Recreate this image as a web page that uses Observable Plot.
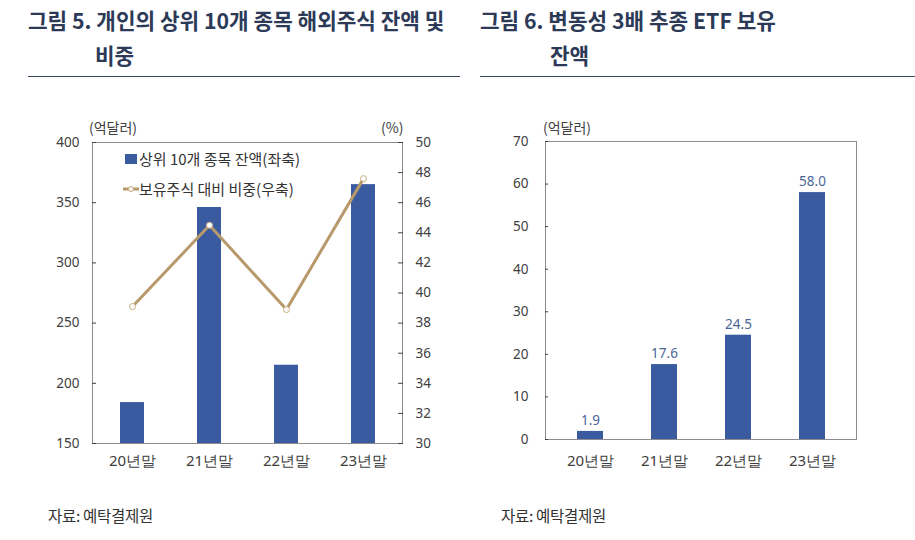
<!DOCTYPE html>
<html>
<head>
<meta charset="utf-8">
<script src="https://cdn.jsdelivr.net/npm/d3@7"></script>
<script src="https://cdn.jsdelivr.net/npm/@observablehq/plot@0.6"></script>
<style>
  html, body { margin: 0; padding: 0; background: #fff; }
  #page { position: relative; width: 915px; height: 540px; overflow: hidden; font-family: "Noto Sans CJK KR", "Noto Sans", sans-serif; }
  .title { position: absolute; font-weight: 700; font-size: 21.3px; color: #2c3a57; line-height: 35px; white-space: nowrap; }
  .rule { position: absolute; height: 0; border-top: 1.5px solid #3d4a62; }
  .unit { position: absolute; font-size: 14px; color: #404040; white-space: nowrap; }
  .src { position: absolute; font-size: 15.5px; color: #333; white-space: nowrap; letter-spacing: -0.3px; }
  .plot { position: absolute; top: 100px; }
  .legend { position: absolute; font-size: 15px; color: #333; white-space: nowrap; display: flex; align-items: center; }
</style>
</head>
<body>
<div id="page">
  <div class="title" style="left:28px; top:2px;">그림 5. 개인의 상위 10개 종목 해외주식 잔액 및</div>
  <div class="title" style="left:95px; top:37px;">비중</div>
  <div class="rule" style="left:28px; top:76px; width:432px;"></div>
  <div class="title" style="left:480px; top:2px;">그림 6. 변동성 3배 추종 ETF 보유</div>
  <div class="title" style="left:550px; top:37px;">잔액</div>
  <div class="rule" style="left:480px; top:76px; width:435px;"></div>

  <div id="left" class="plot" style="left:0px;"></div>
  <div id="right" class="plot" style="left:470px;"></div>

  <div class="unit" style="left:89px; top:117px;">(억달러)</div>
  <div class="unit" style="left:381px; top:117px;">(%)</div>
  <div class="unit" style="left:543px; top:117px;">(억달러)</div>

  <div class="legend" style="left:125px; top:148px;">
    <span style="display:inline-block;width:12px;height:10px;background:#3a5ba0;margin-right:2px;"></span>상위 10개 종목 잔액(좌축)
  </div>
  <div class="legend" style="left:123px; top:178px;">
    <svg width="16" height="10" style="margin-right:0px;"><line x1="0" y1="5" x2="16" y2="5" stroke="#b8996b" stroke-width="3"/><circle cx="8" cy="5" r="2.5" fill="#fff" stroke="#c4a77c" stroke-width="1"/></svg>보유주식 대비 비중(우축)
  </div>

  <div class="src" style="left:48px; top:504px;">자료: 예탁결제원</div>
  <div class="src" style="left:501px; top:504px;">자료: 예탁결제원</div>
</div>
<script>
// ---- Data ----
const categories = ["20년말", "21년말", "22년말", "23년말"];
const topTenBalance = [184, 346, 215, 365];          // 억달러 (left axis)
const shareOfHoldings = [39.1, 44.5, 38.9, 47.6];     // % (right axis)
const leftTicks = [150, 200, 250, 300, 350, 400];
const rightTicks = [30, 32, 34, 36, 38, 40, 42, 44, 46, 48, 50];
const etfBalance = [1.9, 17.6, 24.5, 58.0];            // 억달러
const etfTicks = [0, 10, 20, 30, 40, 50, 60, 70];

const barColor = "#3a5ba0";
const lineColor = "#b8996b";
const axisStyle = { fontFamily: "'Noto Sans', sans-serif", fontSize: "13.5px", color: "#404040", background: "transparent", overflow: "visible" };

// secondary axis mapping: % domain [30,50] -> left domain [150,400]
const toLeft = p => 150 + (p - 30) * (250 / 20);
const fromLeft = v => (v - 150) / (250 / 20) + 30;

const leftData = categories.map((c, i) => ({ cat: c, bal: topTenBalance[i], pct: shareOfHoldings[i] }));
const rightData = categories.map((c, i) => ({ cat: c, v: etfBalance[i] }));

const left = Plot.plot({
  width: 460, height: 380,
  marginLeft: 92, marginRight: 58, marginTop: 42, marginBottom: 37,
  style: axisStyle,
  x: { domain: categories, paddingInner: 0.69, paddingOuter: 0.345, label: null },
  y: { domain: [150, 400], label: null },
  marks: [
    Plot.barY(leftData, { x: "cat", y1: 150, y2: "bal", fill: barColor }),
    Plot.frame({ stroke: "#8c8c8c" }),
    Plot.axisY(leftTicks, { anchor: "left", tickSize: -4, tickPadding: 17, label: null }),
    Plot.axisY(rightTicks.map(toLeft), { anchor: "right", tickSize: -5, tickPadding: 18, label: null, tickFormat: v => String(Math.round(fromLeft(v))) }),
    Plot.axisX({ tickSize: 0, tickPadding: 12, label: null, fontSize: 15 }),
    Plot.line(leftData, { x: "cat", y: d => toLeft(d.pct), stroke: lineColor, strokeWidth: 3 }),
    Plot.dot(leftData, { x: "cat", y: d => toLeft(d.pct), r: 3, fill: "#fff", stroke: "#c9ad84", strokeWidth: 1 })
  ]
});
document.getElementById("left").appendChild(left);

const right = Plot.plot({
  width: 445, height: 380,
  marginLeft: 75, marginRight: 59, marginTop: 41, marginBottom: 41,
  style: axisStyle,
  x: { domain: categories, paddingInner: 0.653, paddingOuter: 0.413, label: null },
  y: { domain: [0, 70], label: null },
  marks: [
    Plot.barY(rightData, { x: "cat", y: "v", fill: barColor }),
    Plot.frame({ stroke: "#8c8c8c" }),
    Plot.axisY(etfTicks, { anchor: "left", tickSize: -3, tickPadding: 20, label: null }),
    Plot.axisX({ tickSize: 0, tickPadding: 16, label: null, fontSize: 15 }),
    Plot.text(rightData, { x: "cat", y: "v", text: d => d.v.toFixed(1), dy: -11, fill: "#4b6597", fontSize: 13.5 })
  ]
});
document.getElementById("right").appendChild(right);
</script>
</body>
</html>
